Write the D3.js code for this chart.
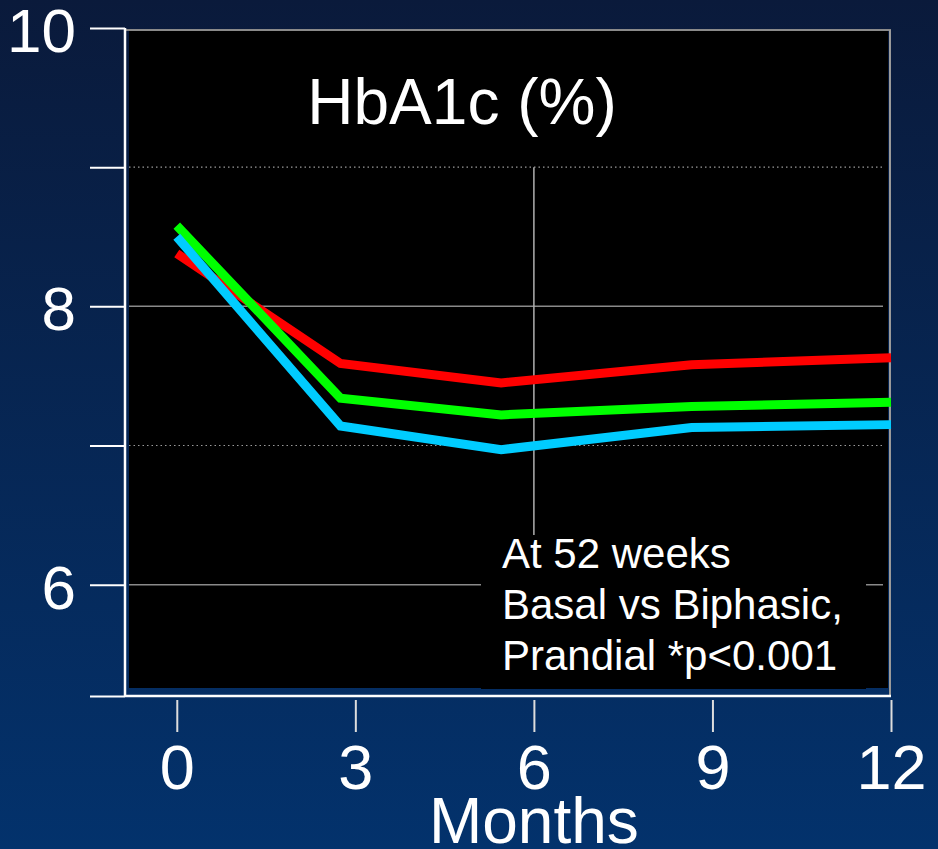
<!DOCTYPE html>
<html>
<head>
<meta charset="utf-8">
<script src="https://cdn.jsdelivr.net/npm/d3@7"></script>
<style>
  body { margin: 0; padding: 0; background: #0a1b3d; }
  svg { display: block; }
  text { font-family: "Liberation Sans", Arial, sans-serif; fill: #ffffff; }
</style>
</head>
<body>
<svg id="chart"></svg>
<script>
var chartWidth = 938;
var chartHeight = 849;

/********
 * Data *
 ********/

// months at which HbA1c was measured (12, 24, ~38, 52 weeks)
var months = [0, 2.75, 5.45, 8.65, 12];

var basal     = [8.38, 7.59, 7.45, 7.58, 7.63];   // red
var biphasic  = [8.58, 7.34, 7.22, 7.28, 7.31];   // green
var prandial  = [8.50, 7.14, 6.97, 7.13, 7.15];   // light blue

var seriesNames  = ["Basal", "Biphasic", "Prandial"];
var seriesColors = ["#ff0000", "#00ff00", "#00ccff"];

var xTicks = [0, 3, 6, 9, 12];
var yTicks = [5.2, 6, 7, 8, 9, 10];
var yLabels = [6, 8, 10];
var solidGrid = [6, 8];
var dottedGrid = [7, 9];

var title = "HbA1c (%)";
var xTitle = "Months";
var note = ["At 52 weeks", "Basal vs Biphasic,", "Prandial *p<0.001"];

/**********
 * Scales *
 **********/

var x = d3.scaleLinear().domain([-0.87, 12]).range([125, 891]);
var y = d3.scaleLinear().domain([5.2, 10]).range([696, 28]);

var svg = d3.select("#chart")
    .attr("width", chartWidth)
    .attr("height", chartHeight);

// background gradient
var defs = svg.append("defs");
var grad = defs.append("linearGradient")
    .attr("id", "bg")
    .attr("x1", 0).attr("y1", 0).attr("x2", 0).attr("y2", 1);
grad.append("stop").attr("offset", "0%").attr("stop-color", "#0a1a3b");
grad.append("stop").attr("offset", "100%").attr("stop-color", "#03326c");

svg.append("rect")
    .attr("width", chartWidth)
    .attr("height", chartHeight)
    .attr("fill", "url(#bg)");

// black plot area
svg.append("rect")
    .attr("x", x(-0.87) + 4)
    .attr("y", y(10) + 2)
    .attr("width", x(12) - x(-0.87) - 7)
    .attr("height", y(5.2) - y(10) - 10)
    .attr("fill", "#000000");

/*************
 * Gridlines *
 *************/

svg.selectAll(".grid-solid")
    .data(solidGrid)
    .enter().append("line")
    .attr("x1", x(-0.87) + 4)
    .attr("x2", x(12) - 8)
    .attr("y1", d => y(d))
    .attr("y2", d => y(d))
    .attr("stroke", "#8a8a8a")
    .attr("stroke-width", 1.5);

svg.selectAll(".grid-dot")
    .data(dottedGrid)
    .enter().append("line")
    .attr("x1", x(-0.87) + 4)
    .attr("x2", x(12) - 8)
    .attr("y1", d => y(d))
    .attr("y2", d => y(d))
    .attr("stroke", "#9a9a9a")
    .attr("stroke-width", 1.2)
    .attr("stroke-dasharray", "1.5,3");

// top and right frame
svg.append("line")
    .attr("x1", x(-0.87)).attr("x2", x(12))
    .attr("y1", y(10) + 2).attr("y2", y(10) + 2)
    .attr("stroke", "#8a8a8a").attr("stroke-width", 2);
svg.append("line")
    .attr("x1", x(12) - 1).attr("x2", x(12) - 1)
    .attr("y1", y(10) + 2).attr("y2", y(5.2))
    .attr("stroke", "#9a9a9a").attr("stroke-width", 2);

// vertical marker at 6 months
svg.append("line")
    .attr("x1", x(6)).attr("x2", x(6))
    .attr("y1", y(9)).attr("y2", y(5.2) - 8)
    .attr("stroke", "#b0b0b0").attr("stroke-width", 1.5);

/*********
 * Lines *
 *********/

var line = d3.line()
    .x((d, i) => x(months[i]))
    .y(d => y(d));

svg.selectAll(".series")
    .data([basal, biphasic, prandial])
    .enter().append("path")
    .attr("class", "series")
    .attr("d", line)
    .attr("fill", "none")
    .attr("stroke", (d, i) => seriesColors[i])
    .attr("stroke-width", 9)
    .attr("stroke-linejoin", "miter");

/********
 * Axes *
 ********/

var yAxis = d3.axisLeft(y)
    .tickValues(yTicks)
    .tickSize(35)
    .tickPadding(14)
    .tickFormat(d => yLabels.indexOf(d) >= 0 ? d : "");

var yAxisGroup = svg.append("g")
    .attr("transform", "translate(" + x(-0.87) + ",0)")
    .call(yAxis);
yAxisGroup.select(".domain").remove();
yAxisGroup.append("line")
    .attr("x1", 0).attr("x2", 0)
    .attr("y1", y(10)).attr("y2", y(5.2))
    .attr("stroke", "#ffffff").attr("stroke-width", 2.5);
yAxisGroup.selectAll(".tick line")
    .attr("stroke", "#ffffff").attr("stroke-width", 2);
yAxisGroup.selectAll(".tick text")
    .attr("font-size", "62px")
    .attr("fill", "#ffffff")
    .attr("dy", "0.38em");

var xAxis = d3.axisBottom(x)
    .tickValues(xTicks)
    .tickSize(36)
    .tickPadding(8);

var xAxisGroup = svg.append("g")
    .attr("transform", "translate(0," + y(5.2) + ")")
    .call(xAxis);
xAxisGroup.select(".domain").remove();
xAxisGroup.append("line")
    .attr("x1", x(-0.87)).attr("x2", x(12))
    .attr("y1", 0).attr("y2", 0)
    .attr("stroke", "#ffffff").attr("stroke-width", 2.5);
xAxisGroup.selectAll(".tick line")
    .attr("stroke", "#dddddd").attr("stroke-width", 2)
    .attr("y1", 4);
xAxisGroup.selectAll(".tick text")
    .attr("font-size", "63px")
    .attr("fill", "#ffffff")
    .attr("dy", "0.78em");

svg.append("text")
    .attr("x", x(6))
    .attr("y", 843)
    .attr("text-anchor", "middle")
    .attr("font-size", "64px")
    .text(xTitle);

/***************
 * Annotations *
 ***************/

svg.append("text")
    .attr("x", 462)
    .attr("y", 124)
    .attr("text-anchor", "middle")
    .attr("font-size", "64px")
    .text(title);

svg.append("rect")
    .attr("x", 481)
    .attr("y", 535)
    .attr("width", 385)
    .attr("height", 154)
    .attr("fill", "#000000");

svg.selectAll(".note")
    .data(note)
    .enter().append("text")
    .attr("class", "note")
    .attr("x", 502)
    .attr("y", (d, i) => 568 + i * 51)
    .attr("font-size", "42px")
    .text(d => d);
</script>
</body>
</html>
